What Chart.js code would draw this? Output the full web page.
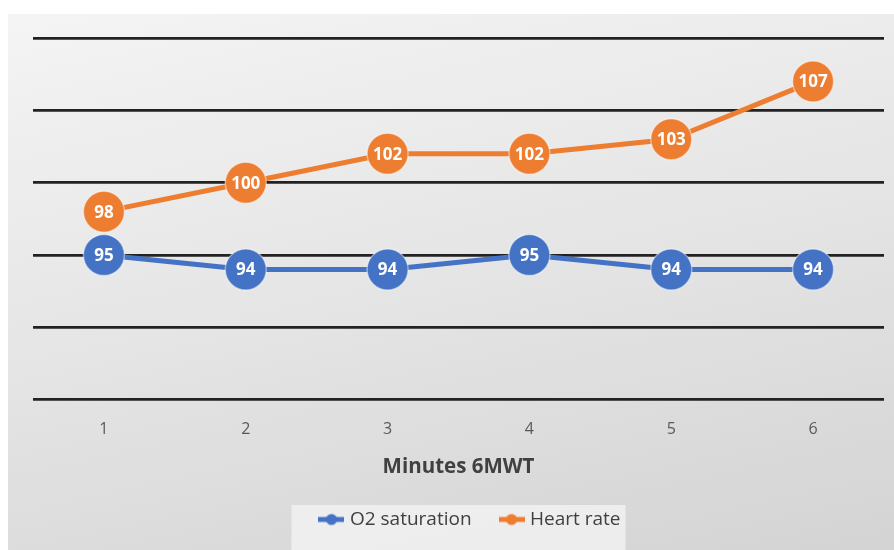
<!DOCTYPE html>
<html>
<head>
<meta charset="utf-8">
<script src="https://cdn.jsdelivr.net/npm/chart.js@4.4.1/dist/chart.umd.min.js"></script>
<style>
  html, body { margin: 0; padding: 0; background: #ffffff; overflow: hidden; width: 894px; height: 550px; }
  #panel {
    position: absolute; left: 8px; top: 14px; width: 886px; height: 547px;
    background: linear-gradient(168deg, #f4f4f4 0%, #e6e6e6 45%, #d3d3d3 100%);
  }
  canvas { display: block; }
</style>
</head>
<body>
<div id="panel"><canvas id="chart" width="886" height="547"></canvas></div>
<script>
// Minutes of the six-minute walk test
const minutes = ['1', '2', '3', '4', '5', '6'];
// Oxygen saturation (%) per minute
const o2Saturation = [95, 94, 94, 95, 94, 94];
// Heart rate (bpm) per minute
const heartRate = [98, 100, 102, 102, 103, 107];
// Value axis limits and gridline step
const yMin = 85, yMax = 110, yStep = 5;

const BLUE = '#4472c4';
const ORANGE = '#ed7d31';
const FONT = "'Open Sans', 'Liberation Sans', sans-serif";
const LEGEND_PAD = 31;
const LEGEND_FONT = 19;

// Legend symbol: a short line with a dot in the middle
function legendSymbol(color) {
  const c = document.createElement('canvas');
  c.width = 26; c.height = 14;
  const g = c.getContext('2d');
  g.strokeStyle = color; g.lineWidth = 5;
  g.beginPath(); g.moveTo(0, 7); g.lineTo(26, 7); g.stroke();
  g.fillStyle = color;
  g.beginPath(); g.arc(13, 7, 5.5, 0, Math.PI * 2); g.fill();
  return c;
}

// Write each value inside its marker
const valueLabels = {
  id: 'valueLabels',
  afterDatasetsDraw(chart) {
    const ctx = chart.ctx;
    ctx.save();
    ctx.font = 'bold 17px ' + FONT;
    ctx.fillStyle = '#ffffff';
    ctx.textAlign = 'center';
    ctx.textBaseline = 'middle';
    chart.data.datasets.forEach((ds, i) => {
      const meta = chart.getDatasetMeta(i);
      meta.data.forEach((pt, j) => {
        ctx.fillText(String(ds.data[j]), pt.x, pt.y + 1);
      });
    });
    ctx.restore();
  }
};

// Nudge the legend row a little to the right of the plot centre
const legendShift = {
  id: 'legendShift',
  afterLayout(chart) {
    const lg = chart.legend;
    if (lg) { lg.left += 13; lg.right += 13; }
  }
};

// Light panel behind the legend entries
const legendPanel = {
  id: 'legendPanel',
  beforeDraw(chart) {
    const lg = chart.legend;
    if (!lg || !lg.legendHitBoxes) return;
    const widths = lg.legendHitBoxes.map(b => b.width);
    const content = widths.reduce((a, b) => a + b, 0) + LEGEND_PAD * (widths.length - 1);
    const start = (lg.left + lg.right) / 2 - content / 2;
    const top = lg.top + LEGEND_PAD + LEGEND_FONT / 2 - 14.5;
    const ctx = chart.ctx;
    ctx.save();
    ctx.fillStyle = 'rgba(241,241,241,0.85)';
    ctx.fillRect(start - 31, top, content + 36, chart.height - top);
    ctx.restore();
  }
};

new Chart(document.getElementById('chart'), {
  type: 'line',
  data: {
    labels: minutes,
    datasets: [
      {
        label: 'O2 saturation',
        data: o2Saturation,
        borderColor: BLUE,
        backgroundColor: BLUE,
        borderWidth: 5,
        pointRadius: 20.5,
        pointBackgroundColor: BLUE,
        pointBorderColor: 'rgba(255,255,255,0.45)',
        pointBorderWidth: 1.5,
        tension: 0
      },
      {
        label: 'Heart rate',
        data: heartRate,
        borderColor: ORANGE,
        backgroundColor: ORANGE,
        borderWidth: 5,
        pointRadius: 20.5,
        pointBackgroundColor: ORANGE,
        pointBorderColor: 'rgba(255,255,255,0.45)',
        pointBorderWidth: 1.5,
        tension: 0
      }
    ]
  },
  options: {
    responsive: false,
    animation: false,
    layout: { autoPadding: false, padding: { left: 25, right: 10, top: 24, bottom: 22 } },
    scales: {
      x: {
        offset: true,
        grid: { display: false },
        border: { display: false },
        ticks: { color: '#595959', font: { family: FONT, size: 16 }, padding: 12 },
        title: {
          display: true,
          text: 'Minutes 6MWT',
          color: '#404040',
          font: { family: FONT, size: 20.5, weight: 'bold' },
          padding: { top: 16, bottom: 0 }
        },
        afterFit(scale) { scale.height = 79.2; }
      },
      y: {
        min: yMin,
        max: yMax,
        ticks: { display: false, stepSize: yStep },
        border: { display: false },
        grid: { color: '#222222', lineWidth: 2.8, drawTicks: false }
      }
    },
    plugins: {
      tooltip: { enabled: false },
      legend: {
        position: 'bottom',
        labels: {
          color: '#404040',
          font: { family: FONT, size: LEGEND_FONT },
          usePointStyle: true,
          pointStyleWidth: 18,
          padding: LEGEND_PAD,
          generateLabels(chart) {
            return chart.data.datasets.map((ds, i) => ({
              text: ds.label,
              pointStyle: legendSymbol(ds.borderColor),
              fillStyle: ds.borderColor,
              strokeStyle: ds.borderColor,
              lineWidth: 0,
              hidden: false,
              datasetIndex: i,
              fontColor: '#404040'
            }));
          }
        }
      }
    }
  },
  plugins: [legendShift, legendPanel, valueLabels]
});
</script>
</body>
</html>
